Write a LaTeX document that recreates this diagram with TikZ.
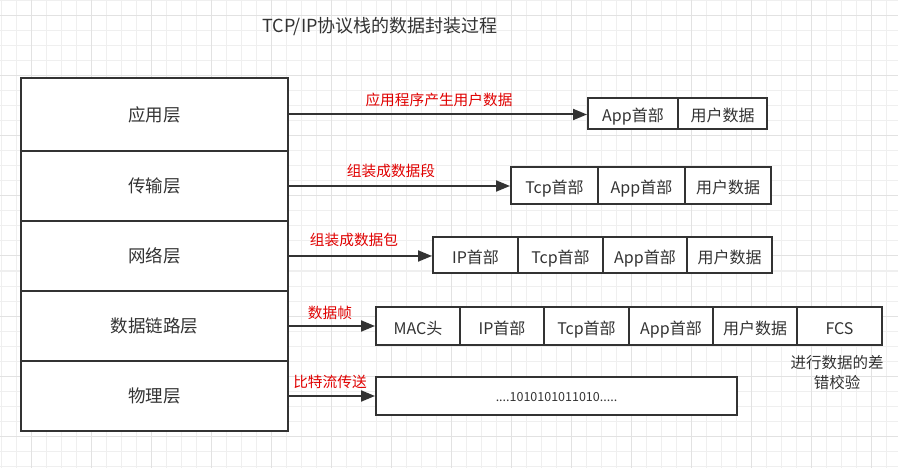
\documentclass[tikz,border=0pt]{standalone}
\usepackage{fontspec}
\setmainfont{Noto Sans CJK SC}
\usetikzlibrary{arrows.meta}
\definecolor{ink}{HTML}{333333}
\definecolor{lbl}{HTML}{E00000}
\definecolor{gminor}{HTML}{EFEFEF}
\definecolor{gmajor}{HTML}{E2E2E2}
\tikzset{
  layerbox/.style={draw=ink, line width=2pt, fill=white, minimum width=267pt, inner sep=0pt, text=ink, font=\fontsize{17.5}{20}\selectfont, text height=14.3pt, text depth=1pt},
  cellbox/.style={draw=ink, line width=2pt, fill=white, inner sep=0pt, text=ink, font=\fontsize{16}{18}\selectfont, text height=17.2pt, text depth=1pt},
  bitbox/.style={draw=ink, line width=2pt, fill=white, inner sep=0pt, text=ink, font=\fontsize{12.5}{15}\selectfont, text height=11pt, text depth=1pt},
  redlbl/.style={text=lbl, inner sep=0pt, font=\fontsize{14.7}{17}\selectfont, text height=12.2pt, text depth=1pt},
  notelbl/.style={text=ink, inner sep=0pt, font=\fontsize{15.5}{18}\selectfont, text height=12.8pt, text depth=1pt},
  titlelbl/.style={text=ink, inner sep=0pt, font=\fontsize{18}{21}\selectfont, text height=14.7pt, text depth=1pt},
  arr/.style={draw=ink, line width=2pt, -{Triangle[length=14pt,width=11pt]}},
}
\begin{document}
\begin{tikzpicture}[x=1pt,y=-1pt]
\useasboundingbox (0,0) rectangle (898,468);
\fill[white] (0,0) rectangle (898,468);
% grid
\foreach \i in {0,...,59} {\draw[gminor, line width=1pt] (1.7+15*\i,0) -- (1.7+15*\i,468);}
\foreach \j in {0,...,31} {\draw[gminor, line width=1pt] (0,1+15*\j) -- (898,1+15*\j);}
\foreach \i in {0,...,14} {\draw[gmajor, line width=1pt] (31.7+60*\i,0) -- (31.7+60*\i,468);}
\foreach \j in {0,...,7} {\draw[gmajor, line width=1pt] (0,16+60*\j) -- (898,16+60*\j);}

% title
\node[titlelbl] (title) at (380,25.5) {TCP/IP协议栈的数据封装过程};

% layers
\node[layerbox, minimum height=73pt] (app) at (154.5,114.5) {应用层};
\node[layerbox, minimum height=70pt] (trans) at (154.5,186) {传输层};
\node[layerbox, minimum height=70pt] (net) at (154.5,256) {网络层};
\node[layerbox, minimum height=70pt] (dl) at (154.5,326) {数据链路层};
\node[layerbox, minimum height=70pt] (phy) at (154.5,396) {物理层};

% row 1
\node[cellbox, minimum width=90pt, minimum height=31pt] (a1) at (633,113.5) {App首部};
\node[cellbox, minimum width=89pt, minimum height=31pt] (a2) at (722.5,113.5) {用户数据};
% row 2
\node[cellbox, minimum width=87pt, minimum height=37pt] (b1) at (554.5,185.5) {Tcp首部};
\node[cellbox, minimum width=87pt, minimum height=37pt] (b2) at (641.5,185.5) {App首部};
\node[cellbox, minimum width=86pt, minimum height=37pt] (b3) at (728,185.5) {用户数据};
% row 3
\node[cellbox, minimum width=85pt, minimum height=36pt] (c1) at (475.5,255) {IP首部};
\node[cellbox, minimum width=85pt, minimum height=36pt] (c2) at (560.5,255) {Tcp首部};
\node[cellbox, minimum width=84pt, minimum height=36pt] (c3) at (645,255) {App首部};
\node[cellbox, minimum width=85pt, minimum height=36pt] (c4) at (729.5,255) {用户数据};
% row 4
\node[cellbox, minimum width=84pt, minimum height=38pt] (d1) at (418,326) {MAC头};
\node[cellbox, minimum width=84pt, minimum height=38pt] (d2) at (502,326) {IP首部};
\node[cellbox, minimum width=85pt, minimum height=38pt] (d3) at (586.5,326) {Tcp首部};
\node[cellbox, minimum width=84pt, minimum height=38pt] (d4) at (671,326) {App首部};
\node[cellbox, minimum width=84pt, minimum height=38pt] (d5) at (755,326) {用户数据};
\node[cellbox, minimum width=85pt, minimum height=38pt] (d6) at (839.5,326) {FCS};
% row 5
\node[bitbox, minimum width=361pt, minimum height=38pt] (e1) at (556.5,396) {....1010101011010.....};

% arrows
\draw[arr] (app.east) -- (app.east -| a1.west);
\draw[arr] (trans.east) -- (trans.east -| b1.west);
\draw[arr] (net.east) -- (net.east -| c1.west);
\draw[arr] (dl.east) -- (dl.east -| d1.west);
\draw[arr] (phy.east) -- (phy.east -| e1.west);

% red labels
\node[redlbl] (l1) at (439,99.5) {应用程序产生用户数据};
\node[redlbl] (l2) at (391,171) {组装成数据段};
\node[redlbl] (l3) at (354,240) {组装成数据包};
\node[redlbl] (l4) at (330,312.5) {数据帧};
\node[redlbl] (l5) at (330,381.5) {比特流传送};

% note
\node[notelbl] (n1) at (837,363) {进行数据的差};
\node[notelbl] (n2) at (837,383) {错校验};
\end{tikzpicture}
\end{document}
